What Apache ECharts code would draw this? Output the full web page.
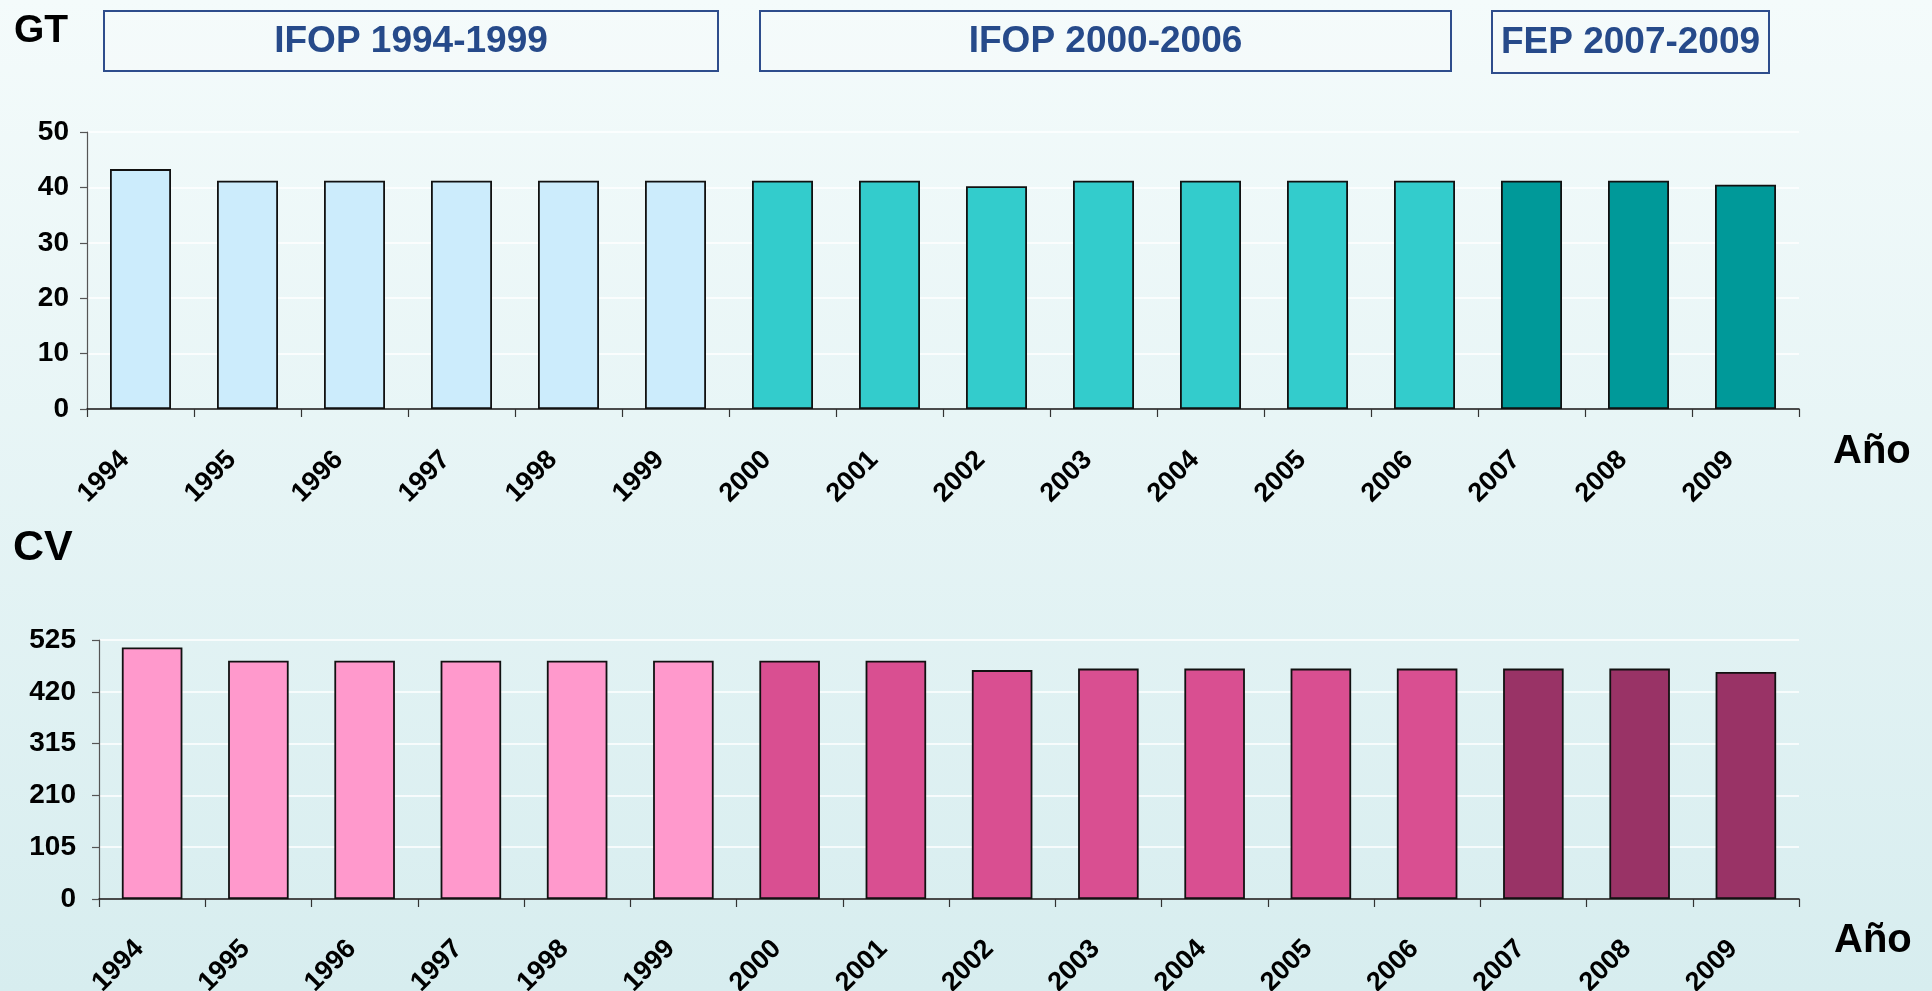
<!DOCTYPE html>
<html>
<head>
<meta charset="utf-8">
<title>GT / CV 1994-2009</title>
<script src="https://cdn.jsdelivr.net/npm/echarts@6/dist/echarts.min.js"></script>
<style>
    html, body { margin: 0; padding: 0; }
    #main { width: 1932px; height: 991px; }
</style>
</head>
<body>
<div id="main"></div>
<script>
// data
let years = ['1994', '1995', '1996', '1997', '1998', '1999', '2000', '2001',
             '2002', '2003', '2004', '2005', '2006', '2007', '2008', '2009'];
let programmeOfYear = ['IFOP 1994-1999', 'IFOP 1994-1999', 'IFOP 1994-1999', 'IFOP 1994-1999',
                       'IFOP 1994-1999', 'IFOP 1994-1999',
                       'IFOP 2000-2006', 'IFOP 2000-2006', 'IFOP 2000-2006', 'IFOP 2000-2006',
                       'IFOP 2000-2006', 'IFOP 2000-2006', 'IFOP 2000-2006',
                       'FEP 2007-2009', 'FEP 2007-2009', 'FEP 2007-2009'];
let programmes = ['IFOP 1994-1999', 'IFOP 2000-2006', 'FEP 2007-2009'];
let gtValues = [43.3, 41.2, 41.2, 41.2, 41.2, 41.2, 41.2, 41.2, 40.2, 41.2, 41.2, 41.2, 41.2, 41.2, 41.2, 40.5];
let cvValues = [510, 483, 483, 483, 483, 483, 483, 483, 464, 467, 467, 467, 467, 467, 467, 460];
let gtAxis = { min: 0, max: 50, interval: 10 };
let cvAxis = { min: 0, max: 525, interval: 105 };

// colours per programme
let gtColors = { 'IFOP 1994-1999': '#CCECFC', 'IFOP 2000-2006': '#33CCCC', 'FEP 2007-2009': '#009999' };
let cvColors = { 'IFOP 1994-1999': '#FF99CC', 'IFOP 2000-2006': '#D94F91', 'FEP 2007-2009': '#993366' };

// header boxes (layout only)
let boxes = [
    { x: 103, y: 10, w: 614, h: 60 },
    { x: 759, y: 10, w: 691, h: 60 },
    { x: 1491, y: 10, w: 277, h: 62 }
];

let font = '"Liberation Sans", Arial, sans-serif';

function barData(values, colors) {
    return values.map(function(v, i) {
        return { value: v, itemStyle: { color: colors[programmeOfYear[i]] } };
    });
}

function makeXAxis(gridIndex, margin, pad, nameGap, namePad) {
    return {
        type: 'category',
        gridIndex: gridIndex,
        data: years,
        name: 'Año',
        nameLocation: 'end',
        nameGap: nameGap,
        nameTextStyle: {
            fontFamily: font, fontSize: 40, fontWeight: 'bold', color: '#000',
            align: 'left', verticalAlign: 'top', padding: [namePad, 0, 0, 0]
        },
        axisLine: { lineStyle: { color: '#111', width: 1.5 } },
        axisTick: { show: true, alignWithLabel: false, length: 8, lineStyle: { color: '#333', width: 1.2 } },
        axisLabel: {
            interval: 0, rotate: 45, margin: margin, padding: [0, pad, 0, 0],
            fontFamily: font, fontSize: 27, fontWeight: 'bold', color: '#000'
        }
    };
}

function makeYAxis(gridIndex, range, margin) {
    return {
        type: 'value',
        gridIndex: gridIndex,
        min: range.min,
        max: range.max,
        interval: range.interval,
        axisLine: { show: true, lineStyle: { color: '#555', width: 1.2 } },
        axisTick: { show: true, length: 7, lineStyle: { color: '#555', width: 1.2 } },
        splitLine: { show: true, lineStyle: { color: '#ffffff', width: 1.5 } },
        axisLabel: { margin: margin, fontFamily: font, fontSize: 28, fontWeight: 'bold', color: '#000' }
    };
}

let graphics = [];
boxes.forEach(function(b, i) {
    graphics.push({
        type: 'group',
        left: b.x,
        top: b.y,
        children: [
            {
                type: 'rect',
                shape: { x: 0, y: 0, width: b.w, height: b.h },
                style: { fill: 'rgba(255,255,255,0.15)', stroke: '#2E4D8C', lineWidth: 2 }
            },
            {
                type: 'text',
                x: b.w / 2,
                y: b.h / 2 + 1,
                style: {
                    text: programmes[i],
                    fill: '#264A8A',
                    font: 'bold 37px ' + font,
                    textAlign: 'center',
                    textVerticalAlign: 'middle'
                }
            }
        ]
    });
});

let chart = echarts.init(document.getElementById('main'));
let option = {
    animation: false,
    backgroundColor: {
        type: 'linear', x: 0, y: 0, x2: 0, y2: 1,
        colorStops: [{ offset: 0, color: '#F4FBFB' }, { offset: 1, color: '#D7EDEF' }]
    },
    title: [
        { text: 'GT', left: 14, top: 12, padding: 0,
          textStyle: { fontFamily: font, fontSize: 39, fontWeight: 'bold', color: '#000' } },
        { text: 'CV', left: 13, top: 527, padding: 0,
          textStyle: { fontFamily: font, fontSize: 43, fontWeight: 'bold', color: '#000' } }
    ],
    graphic: graphics,
    grid: [
        { left: 87, right: 133, top: 132, height: 277, outerBoundsMode: 'none' },
        { left: 99, right: 133, top: 640, height: 259, outerBoundsMode: 'none' }
    ],
    xAxis: [
        makeXAxis(0, 31, 22, 34, 23),
        makeXAxis(1, 33, 18, 35, 22)
    ],
    yAxis: [
        makeYAxis(0, gtAxis, 18),
        makeYAxis(1, cvAxis, 23)
    ],
    series: [
        {
            name: 'GT',
            type: 'bar',
            xAxisIndex: 0,
            yAxisIndex: 0,
            barCategoryGap: '43%',
            itemStyle: { borderColor: '#111', borderWidth: 1.8 },
            data: barData(gtValues, gtColors)
        },
        {
            name: 'CV',
            type: 'bar',
            xAxisIndex: 1,
            yAxisIndex: 1,
            barCategoryGap: '43%',
            itemStyle: { borderColor: '#111', borderWidth: 1.8 },
            data: barData(cvValues, cvColors)
        }
    ]
};
chart.setOption(option);
</script>
</body>
</html>
